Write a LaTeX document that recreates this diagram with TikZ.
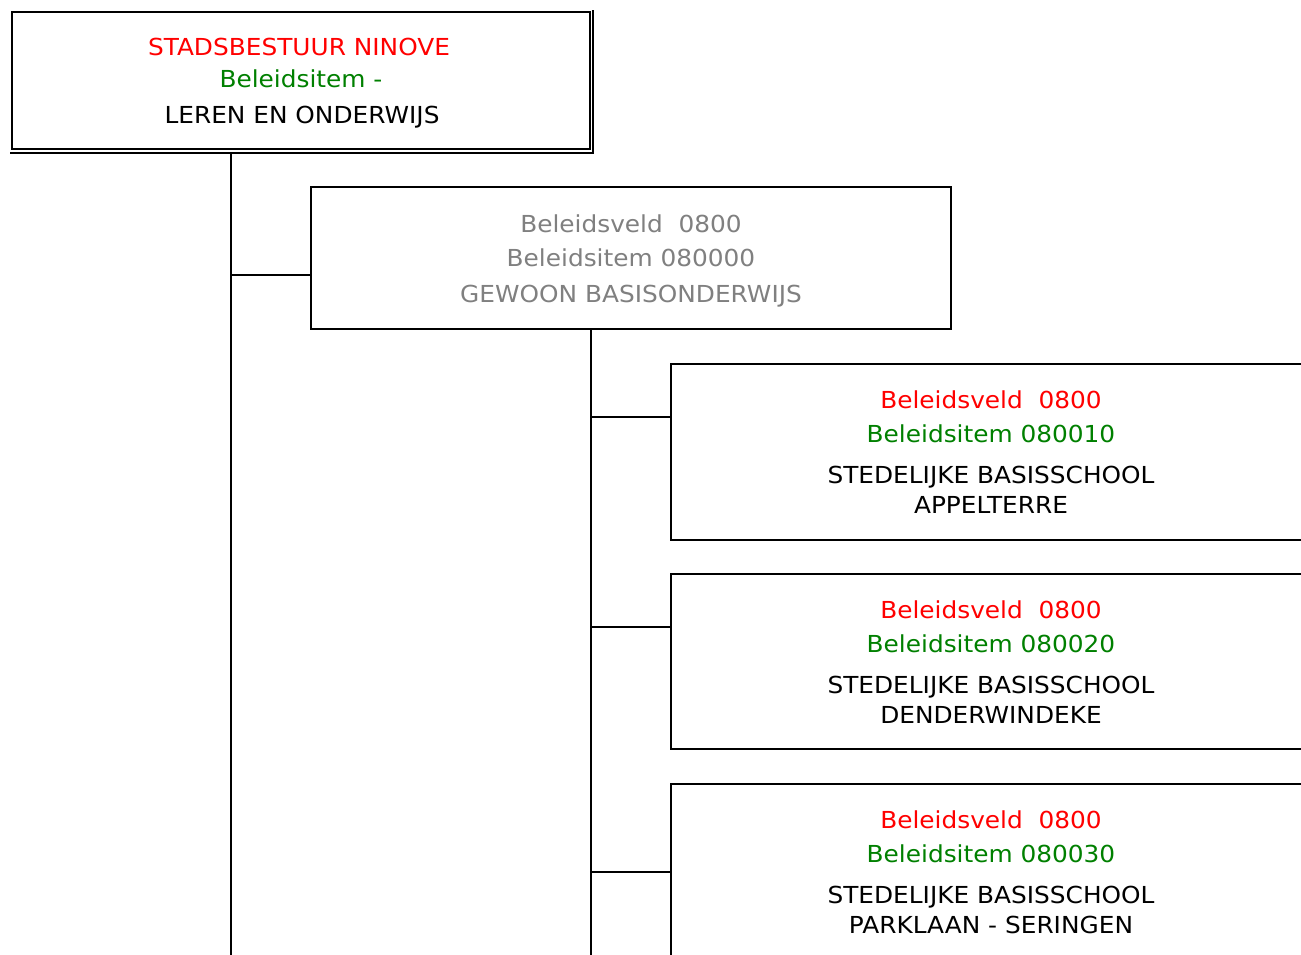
\documentclass[tikz,border=0pt]{standalone}
\usepackage{fontspec}
\setmainfont{DejaVu Sans}[FakeStretch=1.06]
\definecolor{vred}{RGB}{255,0,0}
\definecolor{vgreen}{RGB}{0,128,0}
\definecolor{vgray}{RGB}{128,128,128}
\begin{document}
\begin{tikzpicture}[x=1pt,y=-1pt,
  box/.style={draw=black,line width=2.8pt,fill=none,inner sep=0pt,outer sep=0pt,rectangle},
  txt/.style={anchor=base,inner sep=0pt,font=\fontsize{23.4pt}{26pt}\selectfont},
  conn/.style={draw=black,line width=2.8pt}]
\useasboundingbox (0,0) rectangle (1301,955);
\clip (0,0) rectangle (1301,955);
\fill[white] (0,0) rectangle (1301,955);
% boxes
\node[box,minimum width=578pt,minimum height=137pt] (b0) at (301,80.5) {};
\draw[line width=2.8pt] ([shift={(-2pt,-4pt)}]b0.south west) -- ([shift={(3pt,-4pt)}]b0.south east) -- ([shift={(3pt,2pt)}]b0.north east);
\node[box,minimum width=640pt,minimum height=142pt] (b1) at (631,258) {};
\node[box,minimum width=729pt,minimum height=176pt] (c1) at (1035.5,452) {};
\node[box,minimum width=729pt,minimum height=175pt] (c2) at (1035.5,661.5) {};
\node[box,minimum width=729pt,minimum height=176pt] (c3) at (1035.5,872) {};
% texts
\node[txt,text=vred] (t0a) at (299,56) {STADSBESTUUR NINOVE};
\node[txt,text=vgreen] (t0b) at (301,88) {Beleidsitem -};
\node[txt,text=black] (t0c) at (302,124) {LEREN EN ONDERWIJS};
\node[txt,text=vgray] (t1a) at (631,232) {Beleidsveld\ \ 0800};
\node[txt,text=vgray] (t1b) at (631,266) {Beleidsitem 080000};
\node[txt,text=vgray] (t1c) at (631,302) {GEWOON BASISONDERWIJS};
\node[txt,text=vred] (c1a) at (991,408) {Beleidsveld\ \ 0800};
\node[txt,text=vgreen] (c1b) at (991,442) {Beleidsitem 080010};
\node[txt,text=black] (c1c) at (991,483) {STEDELIJKE BASISSCHOOL};
\node[txt,text=black] (c1d) at (991,513) {APPELTERRE};
\node[txt,text=vred] (c2a) at (991,618) {Beleidsveld\ \ 0800};
\node[txt,text=vgreen] (c2b) at (991,652) {Beleidsitem 080020};
\node[txt,text=black] (c2c) at (991,693) {STEDELIJKE BASISSCHOOL};
\node[txt,text=black] (c2d) at (991,723) {DENDERWINDEKE};
\node[txt,text=vred] (c3a) at (991,828) {Beleidsveld\ \ 0800};
\node[txt,text=vgreen] (c3b) at (991,862) {Beleidsitem 080030};
\node[txt,text=black] (c3c) at (991,903) {STEDELIJKE BASISSCHOOL};
\node[txt,text=black] (c3d) at (991,933) {PARKLAAN - SERINGEN};
% connectors
\coordinate (e0) at (231,960);
\coordinate (e1) at (591,960);
\coordinate (j1) at (231,275);
\coordinate (k1) at (591,417);
\coordinate (k2) at (591,627);
\coordinate (k3) at (591,872);
\draw[conn] ([yshift=-4pt]b0.south -| e0) -- (e0);
\draw[conn] (j1) -- (j1 -| b1.west);
\draw[conn] (b1.south -| e1) -- (e1);
\draw[conn] (k1) -- (k1 -| c1.west);
\draw[conn] (k2) -- (k2 -| c2.west);
\draw[conn] (k3) -- (k3 -| c3.west);
\end{tikzpicture}
\end{document}
